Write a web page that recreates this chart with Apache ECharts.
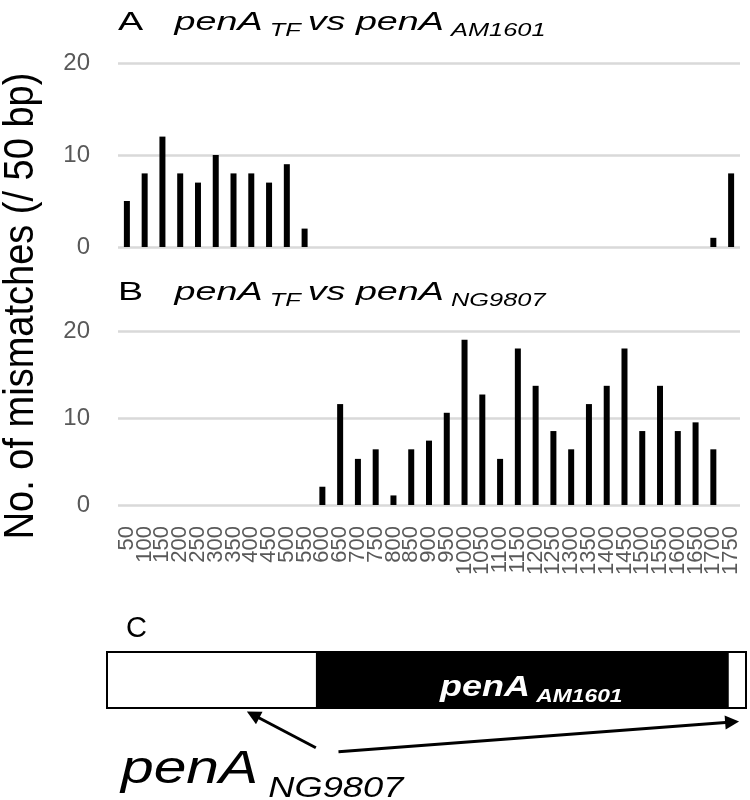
<!DOCTYPE html>
<html>
<head>
<meta charset="utf-8">
<script src="https://cdn.jsdelivr.net/npm/echarts@6.0.0/dist/echarts.min.js"></script>
<style>
  html, body { margin: 0; padding: 0; background: #fff; }
  #chart { width: 750px; height: 800px; }
</style>
</head>
<body>
<div id="chart"></div>
<script>
// positions along penA (bp), one bin per 50 bp
const positions = ['50','100','150','200','250','300','350','400','450','500','550','600','650','700','750','800','850','900','950','1000','1050','1100','1150','1200','1250','1300','1350','1400','1450','1500','1550','1600','1650','1700','1750'];

// A: penA TF vs penA AM1601
const mismatchA = [5, 8, 12, 8, 7, 10, 8, 8, 7, 9, 2, 0, 0, 0, 0, 0, 0, 0, 0, 0, 0, 0, 0, 0, 0, 0, 0, 0, 0, 0, 0, 0, 0, 1, 8];

// B: penA TF vs penA NG9807
const mismatchB = [0, 0, 0, 0, 0, 0, 0, 0, 0, 0, 0, 2.1, 11.6, 5.3, 6.4, 1.1, 6.4, 7.4, 10.6, 19, 12.7, 5.3, 18, 13.7, 8.5, 6.4, 11.6, 13.7, 18, 8.5, 13.7, 8.5, 9.5, 6.4, 0];

const yTicks = [0, 10, 20];

// C: mosaic structure of penA TF
const regionStart = [0, 575, 1700];
const regionEnd = [575, 1700, 1750];
const regionSource = ['NG9807', 'AM1601', 'NG9807'];
const arrowTail = [[572, -0.71], [634, -0.78]];
const arrowHead = [[400, -0.12], [1712, -0.25]];

const FONT = '"Liberation Sans", Arial, sans-serif';
const GRID_LINE = '#d9d9d9';
const LABEL_GREY = '#595959';

const chart = echarts.init(document.getElementById('chart'), null, { renderer: 'canvas' });

function valueAxis(gridIndex) {
  return {
    type: 'value', gridIndex,
    min: yTicks[0], max: yTicks[yTicks.length - 1], interval: 10,
    axisLine: { show: false },
    axisTick: { show: false },
    splitLine: { lineStyle: { color: GRID_LINE, width: 2.5 } },
    axisLabel: { fontSize: 24, color: LABEL_GREY, fontFamily: FONT, margin: 28 },
  };
}

function catAxis(gridIndex, showLabels) {
  return {
    type: 'category', gridIndex, data: positions,
    axisLine: { show: false },
    axisTick: { show: false },
    axisLabel: {
      show: showLabels, interval: 0, rotate: 90,
      fontSize: 22, color: LABEL_GREY, fontFamily: FONT, margin: 21,
    },
  };
}

// rich text pieces for the panel titles (spaces kept inside tokens)
const titleRich = {
  a: { fontSize: 26, fontFamily: FONT, lineHeight: 34, fill: '#000' },
  i: { fontSize: 26, fontFamily: FONT, fontStyle: 'italic', lineHeight: 34, fill: '#000' },
  s: { fontSize: 17.5, fontFamily: FONT, fontStyle: 'italic', verticalAlign: 'bottom', fill: '#000' },
};

const option = {
  backgroundColor: '#fff',
  animation: false,
  grid: [
    { left: 118, right: 10, top: 63, height: 184 },
    { left: 118, right: 10, top: 331, height: 174 },
    { left: 107, right: 4, top: 652, height: 112 },
  ],
  xAxis: [
    catAxis(0, false),
    catAxis(1, true),
    { type: 'value', gridIndex: 2, min: 0, max: 1750, show: false },
  ],
  yAxis: [
    valueAxis(0),
    valueAxis(1),
    { type: 'value', gridIndex: 2, min: -1, max: 1, show: false },
  ],
  series: [
    {
      type: 'bar', xAxisIndex: 0, yAxisIndex: 0, data: mismatchA,
      barWidth: 6, itemStyle: { color: '#000' },
    },
    {
      type: 'bar', xAxisIndex: 1, yAxisIndex: 1, data: mismatchB,
      barWidth: 6, itemStyle: { color: '#000' },
    },
    {
      type: 'custom', xAxisIndex: 2, yAxisIndex: 2,
      data: regionStart.map((s, i) => [s, regionEnd[i]]),
      encode: { x: [0, 1] },
      renderItem: (params, api) => {
        const p0 = api.coord([api.value(0), 1]);
        const p1 = api.coord([api.value(1), 0]);
        const src = regionSource[params.dataIndex];
        return {
          type: 'rect',
          shape: { x: p0[0], y: p0[1], width: p1[0] - p0[0], height: p1[1] - p0[1] },
          style: { fill: src === 'AM1601' ? '#000' : '#fff', stroke: '#000', lineWidth: 2 },
        };
      },
    },
    {
      type: 'lines', coordinateSystem: 'cartesian2d', xAxisIndex: 2, yAxisIndex: 2,
      symbol: ['none', 'triangle'], symbolSize: 14,
      lineStyle: { color: '#000', width: 3, opacity: 1, curveness: 0 },
      data: arrowTail.map((t, i) => ({ coords: [t, arrowHead[i]] })),
    },
  ],
  graphic: [
    {
      type: 'text', x: 21, y: 306, rotation: Math.PI / 2, scaleY: 1.1,
      style: {
        text: 'No. of mismatches (/ 50 bp)', fontSize: 38, fontFamily: FONT,
        fill: '#000', align: 'center', verticalAlign: 'middle',
      },
    },
    {
      type: 'text', x: 118, y: 6, scaleX: 1.45,
      style: { text: '{a|A   }{i|penA}{s| TF }{i|vs penA}{s| AM1601}', rich: titleRich },
    },
    {
      type: 'text', x: 118, y: 276, scaleX: 1.45,
      style: { text: '{a|B   }{i|penA}{s| TF }{i|vs penA}{s| NG9807}', rich: titleRich },
    },
    {
      type: 'text', x: 126, y: 614,
      style: { text: 'C', fontSize: 29, fontFamily: FONT, fill: '#000' },
    },
    {
      type: 'text', x: 440, y: 670, scaleX: 1.2, z: 100,
      style: {
        text: '{i|penA}{s| AM1601}',
        rich: {
          i: { fontSize: 30, fontFamily: FONT, fontStyle: 'italic', fontWeight: 'bold', lineHeight: 36, fill: '#fff' },
          s: { fontSize: 19, fontFamily: FONT, fontStyle: 'italic', fontWeight: 'bold', verticalAlign: 'bottom', fill: '#fff' },
        },
      },
    },
    {
      type: 'text', x: 121, y: 737, scaleX: 1.25,
      style: {
        text: '{i|penA}{s| NG9807}',
        rich: {
          i: { fontSize: 47, fontFamily: FONT, fontStyle: 'italic', lineHeight: 66, fill: '#000' },
          s: { fontSize: 29, fontFamily: FONT, fontStyle: 'italic', verticalAlign: 'bottom', fill: '#000' },
        },
      },
    },
  ],
};

chart.setOption(option);
window.addEventListener('resize', () => chart.resize());
</script>
</body>
</html>
